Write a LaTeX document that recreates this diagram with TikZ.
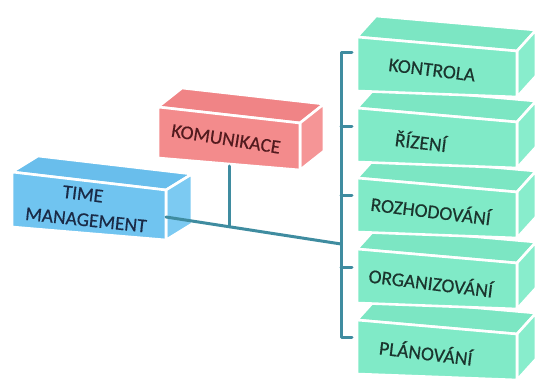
\documentclass[tikz,border=0pt]{standalone}
\usepackage{fontspec}
\setmainfont{Carlito}
\newfontfamily\labelfont{Carlito}[FakeBold=0.5]

\definecolor{mintfront}{HTML}{80EAC7}
\definecolor{minttop}{HTML}{7CE6C3}
\definecolor{mintside}{HTML}{88EDCC}
\definecolor{minttext}{HTML}{1B352E}
\definecolor{rosefront}{HTML}{F38B8C}
\definecolor{rosetop}{HTML}{F08486}
\definecolor{roseside}{HTML}{F59596}
\definecolor{rosetext}{HTML}{521A1E}
\definecolor{skyfront}{HTML}{70C4F0}
\definecolor{skytop}{HTML}{69BEEC}
\definecolor{skyside}{HTML}{7CCAF2}
\definecolor{skytext}{HTML}{1A2A46}
\definecolor{linkcol}{HTML}{3F8CA0}

% \cuboid{name}{x}{y}{width}{left height}{top drop}{bottom drop}{depth x}{depth y}
% draws a box seen from above-right, with face colours cf / ct / cs
\newcommand\cuboid[9]{%
  \coordinate (#1-tl) at (#2,#3);
  \coordinate (#1-tr) at (#2+#4,#3+#6);
  \coordinate (#1-br) at (#2+#4,#3+#5+#7);
  \coordinate (#1-bl) at (#2,#3+#5);
  \filldraw[face,fill=ct] (#1-tl) -- (#1-tr) -- ([shift={(#8,-#9)}]#1-tr)
      -- ([shift={(#8,-#9)}]#1-tl) -- cycle;
  \filldraw[face,fill=cs] (#1-tr) -- ([shift={(#8,-#9)}]#1-tr)
      -- ([shift={(#8,-#9)}]#1-br) -- (#1-br) -- cycle;
  \filldraw[face,fill=cf] (#1-tl) -- (#1-tr) -- (#1-br) -- (#1-bl) -- cycle;
}

\begin{document}
\begin{tikzpicture}[x=1pt,y=-1pt,
  face/.style={draw=white,line width=2.6pt,line join=round},
  label/.style={font=\labelfont\fontsize{19.5}{22}\selectfont,inner sep=0pt,align=center},
  link/.style={draw=linkcol,line width=3pt,line cap=round,line join=round}]
\useasboundingbox (0,0) rectangle (539,385);

% green stack, drawn bottom-up so each box hides the top of the one below
\begin{scope}
  \colorlet{cf}{mintfront}\colorlet{ct}{minttop}\colorlet{cs}{mintside}
  \cuboid{pla}{357}{320}{160}{54}{14}{6}{19}{21}
  \cuboid{org}{357}{249}{160}{54}{14}{6}{19}{21}
  \cuboid{roz}{357}{178}{160}{54}{14}{6}{19}{21}
  \cuboid{riz}{357}{108}{160}{54}{14}{6}{19}{21}
  \cuboid{kon}{357}{37}{160}{54}{14}{6}{19}{21}
\end{scope}
\node[label,text=minttext,rotate=-7] (kontrola) at (432,70) {KONTROLA};
\node[label,text=minttext,rotate=-7] (rizeni) at (421,141) {ŘÍZENÍ};
\node[label,text=minttext,rotate=-7] (rozhodovani) at (431,210) {ROZHODOVÁNÍ};
\node[label,text=minttext,rotate=-7] (organizovani) at (431,282) {ORGANIZOVÁNÍ};
\node[label,text=minttext,rotate=-7] (planovani) at (426,352) {PLÁNOVÁNÍ};

% communication box
\begin{scope}
  \colorlet{cf}{rosefront}\colorlet{ct}{rosetop}\colorlet{cs}{roseside}
  \cuboid{kom}{158}{107}{142}{51}{16}{12}{24}{19}
\end{scope}
\node[label,text=rosetext,rotate=-9] (komunikace) at (226,139) {KOMUNIKACE};

% time management box, label set as two lines
\begin{scope}
  \colorlet{cf}{skyfront}\colorlet{ct}{skytop}\colorlet{cs}{skyside}
  \cuboid{tm}{12}{172}{154}{55}{18}{13}{26}{16}
\end{scope}
\node[label,text=skytext,rotate=-7] (tm-line1) at (83,194) {TIME};
\node[label,text=skytext,rotate=-6] (tm-line2) at (86,220) {MANAGEMENT};

% connectors
\coordinate (tm-out) at (166,217);
\coordinate (kom-out) at (229,166);
\coordinate (bus-end) at (341,244);
\coordinate (bus-join) at (229,226.7);
\coordinate (br-top) at (341,53);
\coordinate (br-bot) at (341,337);
\coordinate (tick-kon) at (352,53);
\coordinate (tick-riz) at (352,127);
\coordinate (tick-roz) at (352,196);
\coordinate (tick-org) at (352,268);
\coordinate (tick-pla) at (352,337);

\draw[link] (tm-out) -- (bus-end);
\draw[link] (kom-out) -- (bus-join);
\draw[link] (tick-kon) -- (br-top) -- (br-bot) -- (tick-pla);
\draw[link] (tick-riz -| br-top) -- (tick-riz);
\draw[link] (tick-roz -| br-top) -- (tick-roz);
\draw[link] (tick-org -| br-top) -- (tick-org);
\end{tikzpicture}
\end{document}
